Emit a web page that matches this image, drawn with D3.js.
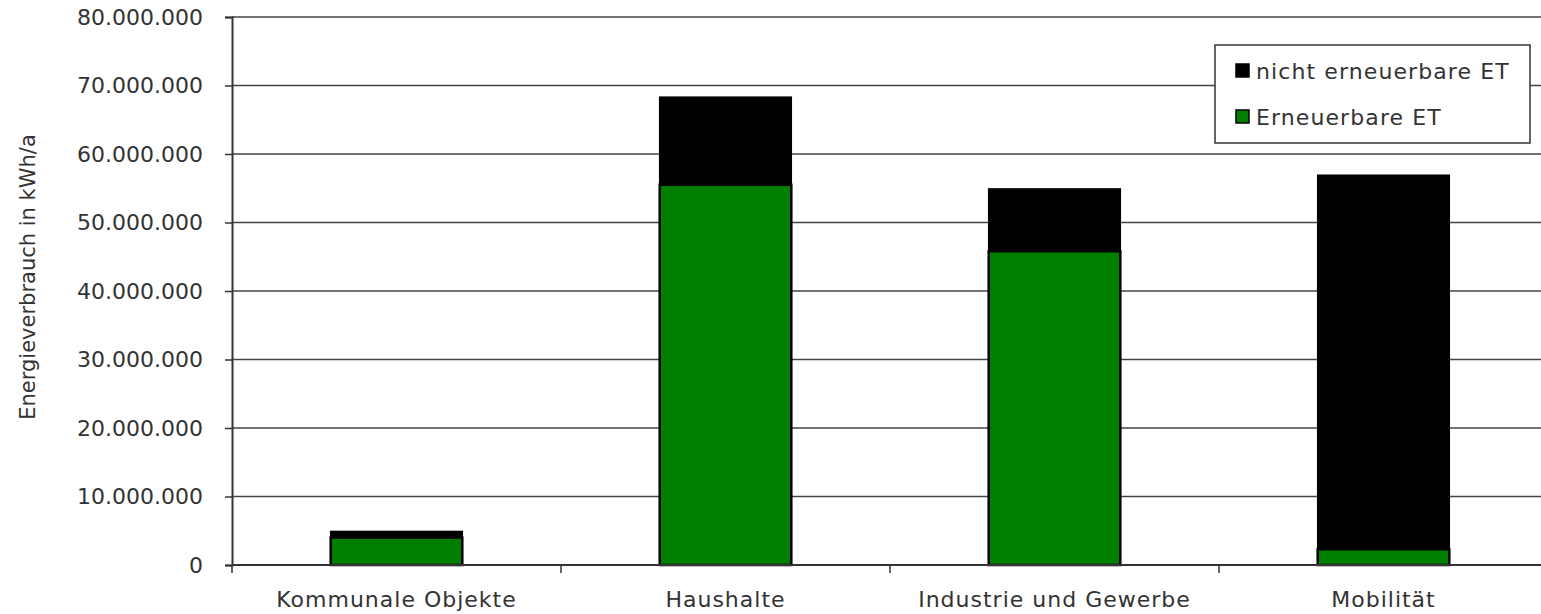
<!DOCTYPE html>
<html><head><meta charset="utf-8">
<script src="https://cdn.jsdelivr.net/npm/d3@7"></script>
<style>body{margin:0;background:#fff;} svg{display:block;} text{font-family:"DejaVu Sans",sans-serif;fill:#333;}</style>
</head><body>
<svg id="c" width="1541" height="614"></svg>
<script>
const categories = ["Kommunale Objekte", "Haushalte", "Industrie und Gewerbe", "Mobilität"];
const erneuerbar = [4000000, 55500000, 45800000, 2300000];
const nichtErneuerbar = [900000, 12800000, 9100000, 54600000];
const yTicks = [0, 10000000, 20000000, 30000000, 40000000, 50000000, 60000000, 70000000, 80000000];
const seriesNames = ["nicht erneuerbare ET", "Erneuerbare ET"];
const seriesColors = ["#000000", "#007f00"];

const svg = d3.select("#c");
const m = {l: 232, r: 1548, t: 17, b: 565};
const x = d3.scaleBand().domain(categories).range([m.l, m.r]).paddingInner(0.6).paddingOuter(0.3);
const y = d3.scaleLinear().domain([0, 80000000]).range([m.b, m.t]);
const fmt = v => d3.format(",")(v).replace(/,/g, ".");

// gridlines
svg.append("g").selectAll("line").data(yTicks.filter(d => d > 0)).join("line")
  .attr("x1", m.l).attr("x2", m.r).attr("y1", d => y(d)).attr("y2", d => y(d))
  .attr("stroke", "#444").attr("stroke-width", 1.3);

// bars
const data = categories.map((c, i) => ({c, e: erneuerbar[i], n: nichtErneuerbar[i]}));
const g = svg.append("g");
g.selectAll("rect.n").data(data).join("rect").attr("class", "n")
  .attr("x", d => x(d.c)).attr("width", x.bandwidth())
  .attr("y", d => y(d.e + d.n)).attr("height", d => y(d.e) - y(d.e + d.n))
  .attr("fill", seriesColors[0]).attr("stroke", "#000").attr("stroke-width", 1.5);
g.selectAll("rect.e").data(data).join("rect").attr("class", "e")
  .attr("x", d => x(d.c)).attr("width", x.bandwidth())
  .attr("y", d => y(d.e)).attr("height", d => y(0) - y(d.e))
  .attr("fill", seriesColors[1]).attr("stroke", "#000").attr("stroke-width", 2.5);

// y axis
const ya = svg.append("g").attr("transform", `translate(${m.l},0)`)
  .call(d3.axisLeft(y).tickValues(yTicks).tickFormat(fmt).tickSize(7).tickPadding(22));
ya.select(".domain").attr("stroke", "#333").attr("stroke-width", 2);
ya.selectAll(".tick line").attr("stroke", "#333").attr("stroke-width", 1.5);
ya.selectAll("text").style("font-size", "22px").attr("fill", "#333").style("font-family", "DejaVu Sans");

// x axis
const xb = d3.scaleLinear().domain([0, categories.length]).range([m.l, m.r]);
const xa = svg.append("g").attr("transform", `translate(0,${m.b})`);
xa.append("line").attr("x1", m.l).attr("x2", m.r).attr("stroke", "#333").attr("stroke-width", 2);
xa.selectAll("line.t").data(d3.range(categories.length + 1)).join("line").attr("class", "t")
  .attr("x1", d => xb(d)).attr("x2", d => xb(d)).attr("y1", 0).attr("y2", 8)
  .attr("stroke", "#333").attr("stroke-width", 1.5);
xa.selectAll("text").data(categories).join("text")
  .attr("x", d => x(d) + x.bandwidth() / 2).attr("y", 42)
  .attr("text-anchor", "middle").style("font-size", "22px").style("letter-spacing", "1px").text(d => d);

// y title
svg.append("text").attr("transform", "translate(35,277) rotate(-90)")
  .attr("text-anchor", "middle").style("font-size", "21px").text("Energieverbrauch in kWh/a");

// legend
const lg = svg.append("g").attr("transform", "translate(1215,45)");
lg.append("rect").attr("width", 315).attr("height", 98).attr("fill", "#fff").attr("stroke", "#333").attr("stroke-width", 1.5);
seriesNames.forEach((s, i) => {
  lg.append("rect").attr("x", 21).attr("y", 19 + i * 46).attr("width", 13).attr("height", 13)
    .attr("fill", seriesColors[i]).attr("stroke", "#000").attr("stroke-width", 1.5);
  lg.append("text").attr("x", 41).attr("y", 34 + i * 46).style("font-size", "22px").style("letter-spacing", "1.1px").text(s);
});
</script>
</body></html>
